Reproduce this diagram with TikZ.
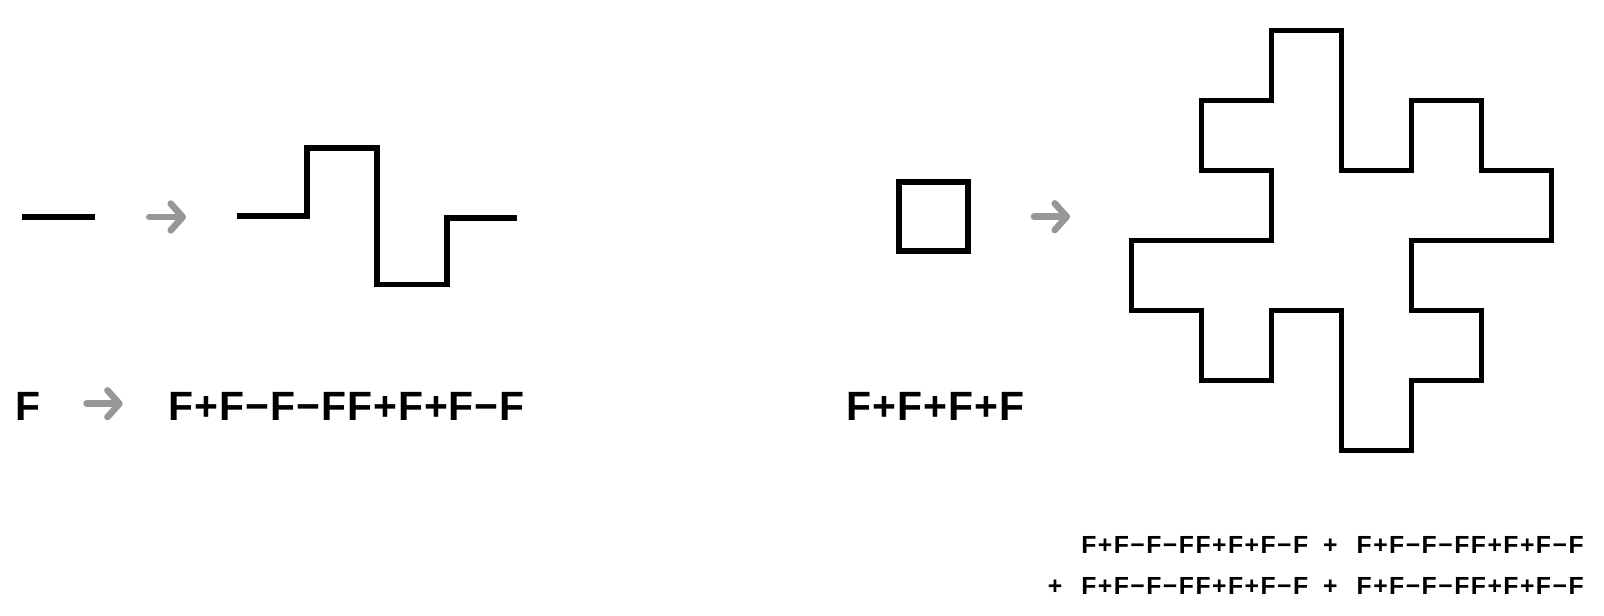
\documentclass[tikz,border=0pt]{standalone}
\usepackage{fontspec}
\setmainfont{Liberation Sans}
\usetikzlibrary{arrows.meta}
\definecolor{arrowgray}{HTML}{979797}
\newcommand\genrule{F+F−F−FF+F+F−F}
\newcommand\sumlead{+\hspace{0.77em}}
\newcommand\sumjoin{\hspace{0.6em}\sumlead}
\begin{document}
\begin{tikzpicture}
  [x=0.025cm,y=-0.025cm,
   curve/.style={draw,line width=4.2pt,miter limit=10},
   turn/.style={draw=arrowgray,line width=4.7pt,line cap=round,
     -{Straight Barb[length=8.5pt,width=19pt,round]}},
   big/.style={font=\fontsize{29.1}{31}\selectfont\bfseries\addfontfeatures{LetterSpace=2.4},
     inner sep=0pt,anchor=base west},
   small/.style={font=\fontsize{17.6}{20}\selectfont\bfseries\addfontfeatures{LetterSpace=6},
     inner sep=0pt,anchor=base west}]
  \useasboundingbox (0,0) rectangle (1604,616);

  % rule: one segment and its replacement
  \path[curve] (22,217) -- (95,217);
  \path[curve] (237,216.2) -- (307,216.2) -- (307,148.2) -- (377,148.2)
    -- (377,284.5) -- (447,284.5) -- (447,217.8) -- (517.3,217.8);

  % axiom square
  \path[curve] (898.8,182.2) rectangle (967.8,251.2);

  % first iteration
  \begin{scope}[shift={(1131.7,30.8)},x=1.75cm,y=-1.75cm]
    \path[draw,line width=3.6pt,miter limit=10]
      (2,0) -- (3,0) -- (3,2) -- (4,2) -- (4,1) -- (5,1) -- (5,2) -- (6,2)
      -- (6,3) -- (4,3) -- (4,4) -- (5,4) -- (5,5) -- (4,5) -- (4,6) -- (3,6)
      -- (3,4) -- (2,4) -- (2,5) -- (1,5) -- (1,4) -- (0,4) -- (0,3) -- (2,3)
      -- (2,2) -- (1,2) -- (1,1) -- (2,1) -- cycle;
  \end{scope}

  % texts
  \node[big] (axF) at (15.6,420) {F};
  \node[big] (ruleF) at (168.3,420) {\genrule};
  \node[big] (axsq) at (846.3,420) {F+F+F+F};
  \node[small] (sum1) at (1081,553.5) {\genrule\sumjoin\genrule};
  \node[small] (sum2) at (1081,594) {\llap{\sumlead}\genrule\sumjoin\genrule};

  % arrows
  \coordinate (s1) at (149.3,217);
  \coordinate (e1) at (186,217);
  \coordinate (s2) at (86.6,403.7);
  \coordinate (e2) at (122.7,403.7);
  \coordinate (s3) at (1034,216.7);
  \coordinate (e3) at (1070,216.7);
  \path[turn] (s1) -- (e1);
  \path[turn] (s2) -- (e2);
  \path[turn] (s3) -- (e3);
\end{tikzpicture}
\end{document}
